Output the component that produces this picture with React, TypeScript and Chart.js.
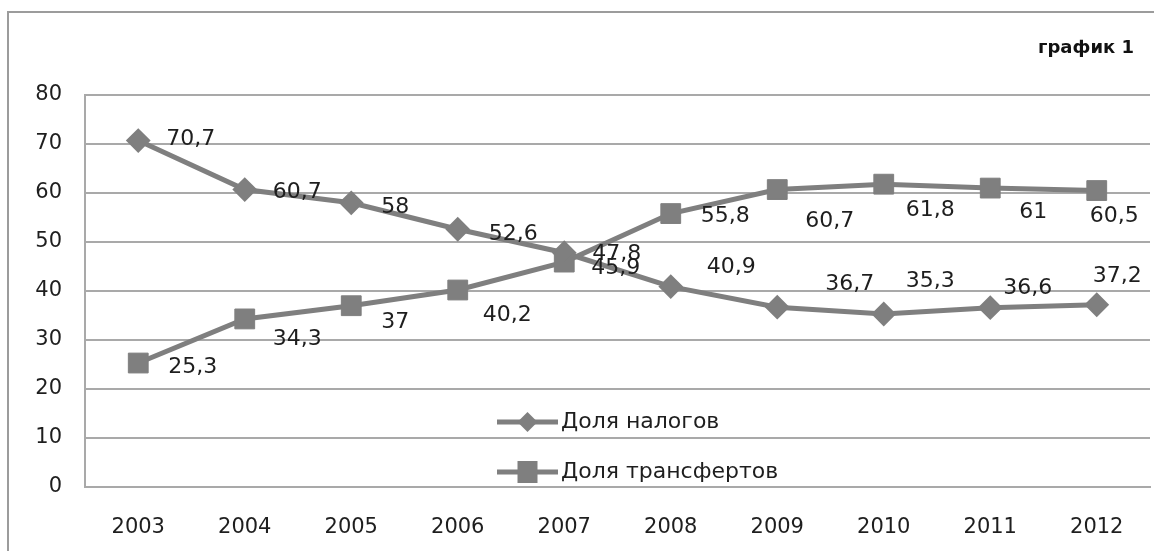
import { useEffect, useRef } from 'react';
import { Chart, registerables } from 'chart.js';

Chart.register(...registerables);

// ---- data ----
const YEARS = ['2003', '2004', '2005', '2006', '2007', '2008', '2009', '2010', '2011', '2012'];
const TAX_SHARE = [70.7, 60.7, 58, 52.6, 47.8, 40.9, 36.7, 35.3, 36.6, 37.2];
const TRANSFER_SHARE = [25.3, 34.3, 37, 40.2, 45.9, 55.8, 60.7, 61.8, 61, 60.5];
const SERIES_NAMES = ['Доля налогов', 'Доля трансфертов'];
const CHART_TITLE = 'график 1';
const Y_MIN = 0;
const Y_MAX = 80;
const Y_STEP = 10;

// ---- value label placement: [dx to text start, dy to text middle] per point ----
const TAX_LABEL_SHIFT = [[28, -1], [28, 3], [30, 4], [31, 5], [28, 2], [36, -19], [48, -23], [22, -33], [13, -19], [-4, -28]];
const TRANSFER_LABEL_SHIFT = [[30, 4], [28, 20], [30, 17], [25, 25], [27, 6], [30, 3], [28, 32], [22, 26], [29, 24], [-7, 26]];

const LINE_COLOR = '#7f7f7f';
const GRID_COLOR = '#a9a9a9';
const TEXT_COLOR = '#1e1e1e';
const FONT = '"DejaVu Sans", sans-serif';

const fmt = (v: number) => String(v).replace('.', ',');

const frameAndTitle = {
  id: 'frameAndTitle',
  beforeDraw(chart: any) {
    const { ctx, width, height } = chart;
    ctx.save();
    ctx.fillStyle = '#ffffff';
    ctx.fillRect(0, 0, width, height);
    ctx.strokeStyle = '#9c9c9c';
    ctx.lineWidth = 2;
    ctx.beginPath();
    ctx.moveTo(8, height);
    ctx.lineTo(8, 12);
    ctx.lineTo(width, 12);
    ctx.stroke();
    ctx.restore();
  },
  afterDraw(chart: any) {
    const { ctx } = chart;
    ctx.save();
    ctx.fillStyle = '#111111';
    ctx.font = `bold 18px ${FONT}`;
    ctx.textAlign = 'right';
    ctx.textBaseline = 'middle';
    ctx.fillText(CHART_TITLE, 1134, 48);
    ctx.restore();
  },
};

const valueLabels = {
  id: 'valueLabels',
  afterDatasetsDraw(chart: any) {
    const { ctx } = chart;
    const shifts = [TAX_LABEL_SHIFT, TRANSFER_LABEL_SHIFT];
    ctx.save();
    ctx.fillStyle = TEXT_COLOR;
    ctx.font = `22px ${FONT}`;
    ctx.textAlign = 'left';
    ctx.textBaseline = 'middle';
    chart.data.datasets.forEach((ds: any, di: number) => {
      const meta = chart.getDatasetMeta(di);
      meta.data.forEach((pt: any, i: number) => {
        const [dx, dy] = shifts[di][i];
        ctx.fillText(fmt(ds.data[i]), pt.x + dx, pt.y + dy);
      });
    });
    ctx.restore();
  },
};

const innerLegend = {
  id: 'innerLegend',
  afterDraw(chart: any) {
    const { ctx } = chart;
    const x0 = 497;
    const x1 = 558;
    const rows = [422, 472];
    ctx.save();
    chart.data.datasets.forEach((ds: any, di: number) => {
      const y = rows[di];
      ctx.strokeStyle = LINE_COLOR;
      ctx.fillStyle = LINE_COLOR;
      ctx.lineWidth = 5;
      ctx.beginPath();
      ctx.moveTo(x0, y);
      ctx.lineTo(x1, y);
      ctx.stroke();
      const cx = (x0 + x1) / 2;
      ctx.beginPath();
      if (ds.pointStyle === 'rectRot') {
        const r = 10;
        ctx.moveTo(cx - r, y);
        ctx.lineTo(cx, y - r);
        ctx.lineTo(cx + r, y);
        ctx.lineTo(cx, y + r);
        ctx.closePath();
      } else {
        ctx.rect(cx - 10, y - 11, 20, 22);
      }
      ctx.fill();
      ctx.fillStyle = TEXT_COLOR;
      ctx.font = `22px ${FONT}`;
      ctx.textAlign = 'left';
      ctx.textBaseline = 'middle';
      ctx.fillText(ds.label, 561, y);
    });
    ctx.restore();
  },
};

export default function App() {
  const canvasRef = useRef<HTMLCanvasElement | null>(null);

  useEffect(() => {
    if (!canvasRef.current) return;
    const chart = new Chart(canvasRef.current, {
      type: 'line',
      data: {
        labels: YEARS,
        datasets: [
          {
            label: SERIES_NAMES[0],
            data: TAX_SHARE,
            borderColor: LINE_COLOR,
            backgroundColor: LINE_COLOR,
            borderWidth: 5,
            pointStyle: 'rectRot',
            pointRadius: 11,
            pointBorderWidth: 2,
            pointBackgroundColor: LINE_COLOR,
            pointBorderColor: LINE_COLOR,
            tension: 0,
          },
          {
            label: SERIES_NAMES[1],
            data: TRANSFER_SHARE,
            borderColor: LINE_COLOR,
            backgroundColor: LINE_COLOR,
            borderWidth: 5,
            pointStyle: 'rect',
            pointRadius: 14,
            pointBorderWidth: 1,
            pointBackgroundColor: LINE_COLOR,
            pointBorderColor: LINE_COLOR,
            tension: 0,
          },
        ],
      },
      options: {
        animation: false,
        responsive: true,
        maintainAspectRatio: false,
        layout: { autoPadding: false, padding: { top: 95, right: 4, bottom: 0, left: 0 } },
        plugins: {
          legend: { display: false },
          tooltip: { enabled: false },
          title: { display: false },
        },
        scales: {
          x: {
            offset: true,
            grid: { display: false, drawTicks: false },
            border: { display: true, color: GRID_COLOR, width: 2 },
            ticks: {
              color: TEXT_COLOR,
              font: { family: FONT, size: 21 },
              padding: 28,
              maxRotation: 0,
              autoSkip: false,
            },
            afterFit: (scale: any) => {
              scale.height = 64;
              scale.paddingLeft = 0;
              scale.paddingRight = 0;
            },
          },
          y: {
            min: Y_MIN,
            max: Y_MAX,
            ticks: {
              stepSize: Y_STEP,
              color: TEXT_COLOR,
              font: { family: FONT, size: 21 },
              padding: 23,
            },
            grid: { color: GRID_COLOR, lineWidth: 2, drawTicks: false },
            border: { display: true, color: GRID_COLOR, width: 2 },
            afterFit: (scale: any) => {
              scale.width = 85;
            },
          },
        },
      },
      plugins: [frameAndTitle, valueLabels, innerLegend],
    });
    return () => chart.destroy();
  }, []);

  return (
    <div
      style={{
        position: 'absolute',
        left: 0,
        top: 0,
        width: 1154,
        height: 551,
        overflow: 'hidden',
      }}
    >
      <canvas ref={canvasRef} style={{ display: 'block' }} />
    </div>
  );
}
